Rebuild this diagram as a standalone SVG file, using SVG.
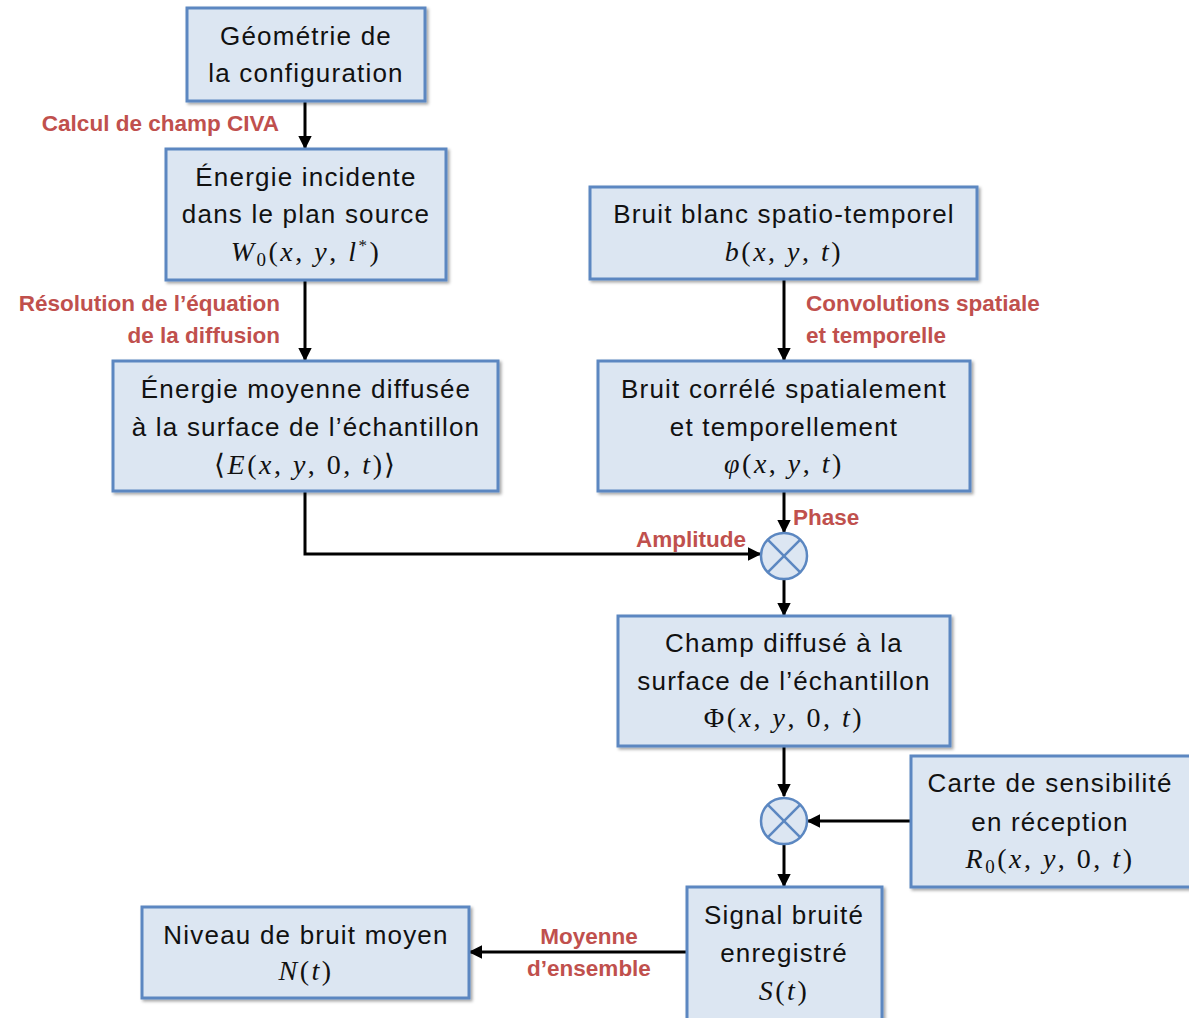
<svg xmlns="http://www.w3.org/2000/svg" width="1189" height="1018" viewBox="0 0 1189 1018">
<defs>
<style>
.box{fill:#DCE6F2;stroke:#5B87C1;stroke-width:3;filter:url(#sh)}
.t{font-family:"Liberation Sans",Arial,sans-serif;font-size:26px;letter-spacing:1.2px;fill:#111;text-anchor:middle}
.m{font-family:"Liberation Serif","Times New Roman",serif;font-size:28px;letter-spacing:2.5px;fill:#111;text-anchor:middle}
.i{font-style:italic}
.r{font-family:"Liberation Sans",Arial,sans-serif;font-size:22.5px;font-weight:bold;fill:#C0504D}
.c{stroke:#000;stroke-width:3;fill:none;marker-end:url(#ah)}
.mul{fill:#DCE6F2;stroke:#5B87C1;stroke-width:2.5}
.x{stroke:#5B87C1;stroke-width:2.5}
</style>
<marker id="ah" viewBox="0 0 10 10" refX="9" refY="5" markerWidth="4.5" markerHeight="4.5" orient="auto" markerUnits="strokeWidth">
<path d="M0,0 L10,5 L0,10 z" fill="#000"/>
</marker>
<filter id="sh" x="-5%" y="-5%" width="110%" height="115%">
<feDropShadow dx="2" dy="2" stdDeviation="1.5" flood-color="#000" flood-opacity="0.35"/>
</filter>
</defs>
<rect width="1189" height="1018" fill="#fff"/>

<g id="connectors">
<line class="c" x1="305" y1="101" x2="305" y2="148"/>
<line class="c" x1="305" y1="280" x2="305" y2="360"/>
<line class="c" x1="784" y1="279" x2="784" y2="360"/>
<polyline class="c" points="305,491 305,554 760,554"/>
<line class="c" x1="784" y1="491" x2="784" y2="532"/>
<line class="c" x1="784" y1="579" x2="784" y2="615"/>
<line class="c" x1="784" y1="746" x2="784" y2="796"/>
<line class="c" x1="911" y1="821" x2="808" y2="821"/>
<line class="c" x1="784" y1="844" x2="784" y2="886"/>
<line class="c" x1="687" y1="952" x2="470" y2="952"/>
</g>

<g id="labels">
<text class="r" x="279" y="131" text-anchor="end">Calcul de champ CIVA</text>
<text class="r" x="280" y="311" text-anchor="end">Résolution de l’équation</text>
<text class="r" x="280" y="343" text-anchor="end">de la diffusion</text>
<text class="r" x="806" y="311">Convolutions spatiale</text>
<text class="r" x="806" y="343">et temporelle</text>
<text class="r" x="793" y="525">Phase</text>
<text class="r" x="746" y="547" text-anchor="end">Amplitude</text>
<text class="r" x="589" y="944" text-anchor="middle">Moyenne</text>
<text class="r" x="589" y="976" text-anchor="middle">d’ensemble</text>
</g>

<g id="n1">
<rect class="box" x="187" y="8" width="238" height="93"/>
<text class="t" x="306" y="45">Géométrie de</text>
<text class="t" x="306" y="82">la configuration</text>
</g>

<g id="n2">
<rect class="box" x="166" y="149" width="280" height="131"/>
<text class="t" x="306" y="186">Énergie incidente</text>
<text class="t" x="306" y="223">dans le plan source</text>
<text class="m" x="306" y="261"><tspan class="i">W</tspan><tspan font-size="19" dy="5">0</tspan><tspan dy="-5">(</tspan><tspan class="i">x</tspan>, <tspan class="i">y</tspan>, <tspan class="i">l</tspan><tspan font-size="17" dy="-10">*</tspan><tspan dy="10">)</tspan></text>
</g>

<g id="n3">
<rect class="box" x="113" y="361" width="385" height="130"/>
<text class="t" x="306" y="398">Énergie moyenne diffusée</text>
<text class="t" x="306" y="436">à la surface de l’échantillon</text>
<text class="m" x="306" y="474">⟨<tspan class="i">E</tspan>(<tspan class="i">x</tspan>, <tspan class="i">y</tspan>, 0, <tspan class="i">t</tspan>)⟩</text>
</g>

<g id="n4">
<rect class="box" x="590" y="187" width="387" height="92"/>
<text class="t" x="784" y="223">Bruit blanc spatio-temporel</text>
<text class="m" x="784" y="261"><tspan class="i">b</tspan>(<tspan class="i">x</tspan>, <tspan class="i">y</tspan>, <tspan class="i">t</tspan>)</text>
</g>

<g id="n5">
<rect class="box" x="598" y="361" width="372" height="130"/>
<text class="t" x="784" y="398">Bruit corrélé spatialement</text>
<text class="t" x="784" y="436">et temporellement</text>
<text class="m" x="784" y="473"><tspan class="i">φ</tspan>(<tspan class="i">x</tspan>, <tspan class="i">y</tspan>, <tspan class="i">t</tspan>)</text>
</g>

<g id="mul1">
<circle class="mul" cx="784" cy="556" r="23"/>
<line class="x" x1="767.7" y1="539.7" x2="800.3" y2="572.3"/>
<line class="x" x1="800.3" y1="539.7" x2="767.7" y2="572.3"/>
</g>

<g id="n6">
<rect class="box" x="618" y="616" width="332" height="130"/>
<text class="t" x="784" y="652">Champ diffusé à la</text>
<text class="t" x="784" y="690">surface de l’échantillon</text>
<text class="m" x="784" y="727">Φ(<tspan class="i">x</tspan>, <tspan class="i">y</tspan>, 0, <tspan class="i">t</tspan>)</text>
</g>

<g id="mul2">
<circle class="mul" cx="784" cy="821" r="23"/>
<line class="x" x1="767.7" y1="804.7" x2="800.3" y2="837.3"/>
<line class="x" x1="800.3" y1="804.7" x2="767.7" y2="837.3"/>
</g>

<g id="n7">
<rect class="box" x="911" y="756" width="280" height="131"/>
<text class="t" x="1050" y="792">Carte de sensibilité</text>
<text class="t" x="1050" y="831">en réception</text>
<text class="m" x="1050" y="868"><tspan class="i">R</tspan><tspan font-size="19" dy="5">0</tspan><tspan dy="-5">(</tspan><tspan class="i">x</tspan>, <tspan class="i">y</tspan>, 0, <tspan class="i">t</tspan>)</text>
</g>

<g id="n8">
<rect class="box" x="687" y="887" width="195" height="135"/>
<text class="t" x="784" y="924">Signal bruité</text>
<text class="t" x="784" y="962">enregistré</text>
<text class="m" x="784" y="1000"><tspan class="i">S</tspan>(<tspan class="i">t</tspan>)</text>
</g>

<g id="n9">
<rect class="box" x="142" y="907" width="327" height="91"/>
<text class="t" x="306" y="944">Niveau de bruit moyen</text>
<text class="m" x="306" y="980"><tspan class="i">N</tspan>(<tspan class="i">t</tspan>)</text>
</g>
</svg>
